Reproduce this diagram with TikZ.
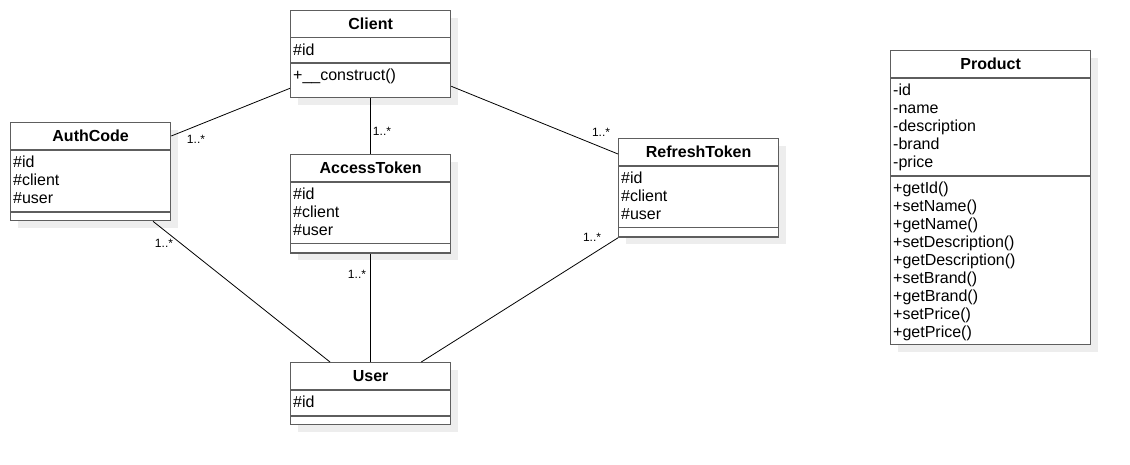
\documentclass[tikz,border=0pt]{standalone}
\usepackage{fontspec}
\setmainfont{Liberation Sans}
\usetikzlibrary{calc,shadows}
\definecolor{umlgray}{HTML}{5E5E5E}
\definecolor{shadowgray}{HTML}{EDEDED}

\begin{document}
\begin{tikzpicture}[x=1pt,y=-1pt,
    umlclass/.style={draw=umlgray,line width=1.3pt,fill=white,inner sep=0pt,anchor=north west,
      minimum width=160pt,drop shadow={shadow xshift=7pt,shadow yshift=-7pt,fill=shadowgray,opacity=1}},
    classname/.style={font=\fontsize{16}{18}\selectfont\bfseries,inner sep=0pt},
    members/.style={font=\fontsize{16}{18}\selectfont,align=left,anchor=base west,inner sep=0pt},
    divider/.style={draw=umlgray,line width=1.3pt},
    mult/.style={font=\fontsize{12}{14}\selectfont,inner sep=0pt},
    assoc/.style={line width=0.8pt}]
            \useasboundingbox (0,0) rectangle (1130,465);
            % classes (members nodes sit on the baseline of their last line)
            \node[umlclass,minimum height=87pt] (client) at (290,10) {};
            \node[classname] (clientname) at ($(client.north)+(0,13.5)$) {Client};
            \draw[divider] ($(client.north west)+(0,27.5)$) -- ++(160,0);
            \draw[divider] ($(client.north west)+(0,53)$) -- ++(160,0);
            \node[members] (clientattr) at ($(client.north west)+(3,45.5)$) {\#id};
            \node[members] (clientops) at ($(client.north west)+(3,70.5)$) {+\_\_construct()};

            \node[umlclass,minimum height=98pt] (authcode) at (10,122) {};
            \node[classname] (authcodename) at ($(authcode.north)+(0,14)$) {AuthCode};
            \draw[divider] ($(authcode.north west)+(0,28)$) -- ++(160,0);
            \draw[divider] ($(authcode.north west)+(0,90)$) -- ++(160,0);
            \node[members] (authcodeattr) at ($(authcode.north west)+(3,81.5)$) {\#id\\\#client\\\#user};

            \node[umlclass,minimum height=98.5pt] (access) at (290,154) {};
            \node[classname] (accessname) at ($(access.north)+(0,14)$) {AccessToken};
            \draw[divider] ($(access.north west)+(0,28)$) -- ++(160,0);
            \draw[divider] ($(access.north west)+(0,89.5)$) -- ++(160,0);
            \node[members] (accessattr) at ($(access.north west)+(3,81.5)$) {\#id\\\#client\\\#user};

            \node[umlclass,minimum height=98.5pt] (refresh) at (618,138) {};
            \node[classname] (refreshname) at ($(refresh.north)+(0,14)$) {RefreshToken};
            \draw[divider] ($(refresh.north west)+(0,28)$) -- ++(160,0);
            \draw[divider] ($(refresh.north west)+(0,89.5)$) -- ++(160,0);
            \node[members] (refreshattr) at ($(refresh.north west)+(3,81.5)$) {\#id\\\#client\\\#user};

            \node[umlclass,minimum height=62pt] (user) at (290,362) {};
            \node[classname] (username) at ($(user.north)+(0,14)$) {User};
            \draw[divider] ($(user.north west)+(0,28)$) -- ++(160,0);
            \draw[divider] ($(user.north west)+(0,54)$) -- ++(160,0);
            \node[members] (userattr) at ($(user.north west)+(3,45.5)$) {\#id};

            \node[umlclass,minimum width=200pt,minimum height=294pt] (product) at (890,50) {};
            \node[classname] (productname) at ($(product.north)+(0,14)$) {Product};
            \draw[divider] ($(product.north west)+(0,28)$) -- ++(200,0);
            \draw[divider] ($(product.north west)+(0,126)$) -- ++(200,0);
            \node[members] (productattr) at ($(product.north west)+(3,117.5)$)
                {-id\\-name\\-description\\-brand\\-price};
            \node[members] (productops) at ($(product.north west)+(3,287.5)$)
                {+getId()\\+setName()\\+getName()\\+setDescription()\\+getDescription()\\+setBrand()\\+getBrand()\\+setPrice()\\+getPrice()};
            % associations
            \draw[assoc] ($(client.south west)+(0,-10)$) -- ($(authcode.north east)+(0,14)$);
            \draw[assoc] (client.south) -- (access.north);
            \draw[assoc] ($(client.south east)+(0,-12)$) -- ($(refresh.north west)+(0,16)$);
            \draw[assoc] ($(authcode.south west)+(143,0)$) -- ($(user.north west)+(40,0)$);
            \draw[assoc] (access.south) -- (user.north);
            \draw[assoc] (refresh.south west) -- ($(user.north east)+(-30,0)$);
            \node[mult] (multauthtop) at (196,139) {1..*};
            \node[mult] (multaccesstop) at (382,131) {1..*};
            \node[mult] (multrefreshtop) at (601,132) {1..*};
            \node[mult] (multauthbot) at (164,243) {1..*};
            \node[mult] (multaccessbot) at (357,274) {1..*};
            \node[mult] (multrefreshbot) at (592,237) {1..*};
\end{tikzpicture}
\end{document}
